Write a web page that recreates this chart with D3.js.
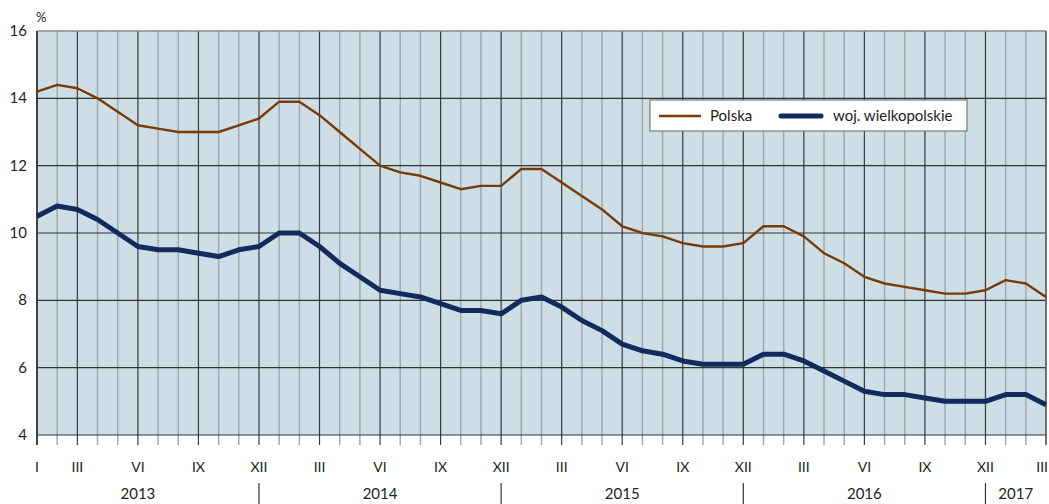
<!DOCTYPE html>
<html>
<head>
<meta charset="utf-8">
<script src="https://cdn.jsdelivr.net/npm/d3@7"></script>
<style>
  body { margin: 0; background: #fff; }
  svg { font-family: Lato, "Open Sans", sans-serif; }
</style>
</head>
<body>
<div id="vis"></div>
<script>
// data: monthly values I 2013 - III 2017
const YEARS = [2013, 2014, 2015, 2016, 2017];
const MONTH_LABELS = ["I", "II", "III", "IV", "V", "VI", "VII", "VIII", "IX", "X", "XI", "XII"];
const SHOWN_MONTHS = ["III", "VI", "IX", "XII"];
const Y_TICKS = [4, 6, 8, 10, 12, 14, 16];

const POLSKA = [
  14.2, 14.4, 14.3, 14.0, 13.6, 13.2, 13.1, 13.0, 13.0, 13.0, 13.2, 13.4,
  13.9, 13.9, 13.5, 13.0, 12.5, 12.0, 11.8, 11.7, 11.5, 11.3, 11.4, 11.4,
  11.9, 11.9, 11.5, 11.1, 10.7, 10.2, 10.0, 9.9, 9.7, 9.6, 9.6, 9.7,
  10.2, 10.2, 9.9, 9.4, 9.1, 8.7, 8.5, 8.4, 8.3, 8.2, 8.2, 8.3,
  8.6, 8.5, 8.1
];
const WIELKOPOLSKIE = [
  10.5, 10.8, 10.7, 10.4, 10.0, 9.6, 9.5, 9.5, 9.4, 9.3, 9.5, 9.6,
  10.0, 10.0, 9.6, 9.1, 8.7, 8.3, 8.2, 8.1, 7.9, 7.7, 7.7, 7.6,
  8.0, 8.1, 7.8, 7.4, 7.1, 6.7, 6.5, 6.4, 6.2, 6.1, 6.1, 6.1,
  6.4, 6.4, 6.2, 5.9, 5.6, 5.3, 5.2, 5.2, 5.1, 5.0, 5.0, 5.0,
  5.2, 5.2, 4.9
];

const FRAME_WIDTH = 1049;
const FRAME_HEIGHT = 504;
const MARGINS = {left: 37, right: 3, top: 31, bottom: 69};

const N = POLSKA.length;

const SVG = d3.select("#vis")
  .append("svg")
    .attr("width", FRAME_WIDTH)
    .attr("height", FRAME_HEIGHT);

const X_SCALE = d3.scaleLinear()
  .domain([0, N - 1])
  .range([MARGINS.left, FRAME_WIDTH - MARGINS.right]);
const Y_SCALE = d3.scaleLinear()
  .domain([4, 16])
  .range([FRAME_HEIGHT - MARGINS.bottom, MARGINS.top]);

const idx = d3.range(N);
const isQuarter = (i) => (i % 12) % 3 === 2 || i === 0;

// background
SVG.append("rect")
  .attr("x", X_SCALE(0))
  .attr("y", Y_SCALE(16))
  .attr("width", X_SCALE(N - 1) - X_SCALE(0))
  .attr("height", Y_SCALE(4) - Y_SCALE(16))
  .attr("fill", "#cddee6");

// vertical grid lines + ticks below axis
SVG.append("g")
  .selectAll("line")
  .data(idx)
  .enter()
  .append("line")
    .attr("x1", (d) => X_SCALE(d))
    .attr("x2", (d) => X_SCALE(d))
    .attr("y1", Y_SCALE(16))
    .attr("y2", Y_SCALE(4) + 10)
    .attr("stroke", (d) => isQuarter(d) ? "#3a3a3a" : "#a3a8aa")
    .attr("stroke-width", (d) => isQuarter(d) ? 1.2 : 1.5);

// horizontal grid lines
SVG.append("g")
  .selectAll("line")
  .data(Y_TICKS)
  .enter()
  .append("line")
    .attr("x1", X_SCALE(0))
    .attr("x2", X_SCALE(N - 1))
    .attr("y1", (d) => Y_SCALE(d))
    .attr("y2", (d) => Y_SCALE(d))
    .attr("stroke", (d) => d === 16 ? "#8a8a8a" : "#333")
    .attr("stroke-width", (d) => d === 16 ? 1.5 : 1.2);

// left and right edges
SVG.append("line")
  .attr("x1", X_SCALE(0)).attr("x2", X_SCALE(0))
  .attr("y1", Y_SCALE(16)).attr("y2", Y_SCALE(4) + 10)
  .attr("stroke", "#222").attr("stroke-width", 1.3);
SVG.append("line")
  .attr("x1", X_SCALE(N - 1)).attr("x2", X_SCALE(N - 1))
  .attr("y1", Y_SCALE(16)).attr("y2", Y_SCALE(4) + 10)
  .attr("stroke", "#666").attr("stroke-width", 1.3);

// y tick labels
SVG.append("g")
  .selectAll("text")
  .data(Y_TICKS)
  .enter()
  .append("text")
    .attr("x", X_SCALE(0) - 10)
    .attr("y", (d) => Y_SCALE(d) + 5)
    .attr("text-anchor", "end")
    .attr("font-size", "15px")
    .attr("fill", "#222")
    .text((d) => d);

SVG.append("text")
  .attr("x", X_SCALE(0) - 1)
  .attr("y", 22)
  .attr("font-size", "13px")
  .attr("fill", "#222")
  .text("%");

// month labels (I only at the very start)
const monthTicks = idx.filter((i) => i === 0 || SHOWN_MONTHS.includes(MONTH_LABELS[i % 12]));
SVG.append("g")
  .selectAll("text")
  .data(monthTicks)
  .enter()
  .append("text")
    .attr("x", (d) => d === N - 1 ? X_SCALE(d) + 2 : X_SCALE(d))
    .attr("y", 472)
    .attr("text-anchor", (d) => d === N - 1 ? "end" : "middle")
    .attr("font-size", "14px")
    .attr("fill", "#222")
    .text((d) => MONTH_LABELS[d % 12]);

// year labels
SVG.append("g")
  .selectAll("text")
  .data(YEARS)
  .enter()
  .append("text")
    .attr("x", (d, i) => {
      const start = i * 12;
      const end = Math.min(i * 12 + 11, N - 1);
      return i === YEARS.length - 1 ? (X_SCALE(start - 1) + X_SCALE(end)) / 2 : X_SCALE(start + 5);
    })
    .attr("y", 499)
    .attr("text-anchor", "middle")
    .attr("font-size", "15px")
    .attr("fill", "#222")
    .text((d) => d);

// year separators
SVG.append("g")
  .selectAll("line")
  .data(YEARS.slice(0, -1))
  .enter()
  .append("line")
    .attr("x1", (d, i) => X_SCALE(i * 12 + 11))
    .attr("x2", (d, i) => X_SCALE(i * 12 + 11))
    .attr("y1", 483)
    .attr("y2", 504)
    .attr("stroke", "#333")
    .attr("stroke-width", 1.2);

// lines
const line = d3.line()
  .x((d, i) => X_SCALE(i))
  .y((d) => Y_SCALE(d));

SVG.append("path")
  .datum(POLSKA)
  .attr("d", line)
  .attr("fill", "none")
  .attr("stroke", "#7a3a05")
  .attr("stroke-width", 2.4)
  .attr("stroke-linejoin", "round");

SVG.append("path")
  .datum(WIELKOPOLSKIE)
  .attr("d", line)
  .attr("fill", "none")
  .attr("stroke", "#122a5e")
  .attr("stroke-width", 5)
  .attr("stroke-linejoin", "round");

// legend
const LEGEND = SVG.append("g").attr("transform", "translate(650,100)");
LEGEND.append("rect")
  .attr("width", 317).attr("height", 31)
  .attr("fill", "#fff")
  .attr("stroke", "#666").attr("stroke-width", 1);
LEGEND.append("line")
  .attr("x1", 9).attr("x2", 51).attr("y1", 16).attr("y2", 16)
  .attr("stroke", "#7a3a05").attr("stroke-width", 2.4);
LEGEND.append("text")
  .attr("x", 60).attr("y", 21)
  .attr("font-size", "15px").attr("fill", "#222")
  .text("Polska");
LEGEND.append("line")
  .attr("x1", 131).attr("x2", 171).attr("y1", 16).attr("y2", 16)
  .attr("stroke", "#122a5e").attr("stroke-width", 5)
  .attr("stroke-linecap", "round");
LEGEND.append("text")
  .attr("x", 183).attr("y", 21)
  .attr("font-size", "15px").attr("fill", "#222")
  .text("woj. wielkopolskie");
</script>
</body>
</html>
